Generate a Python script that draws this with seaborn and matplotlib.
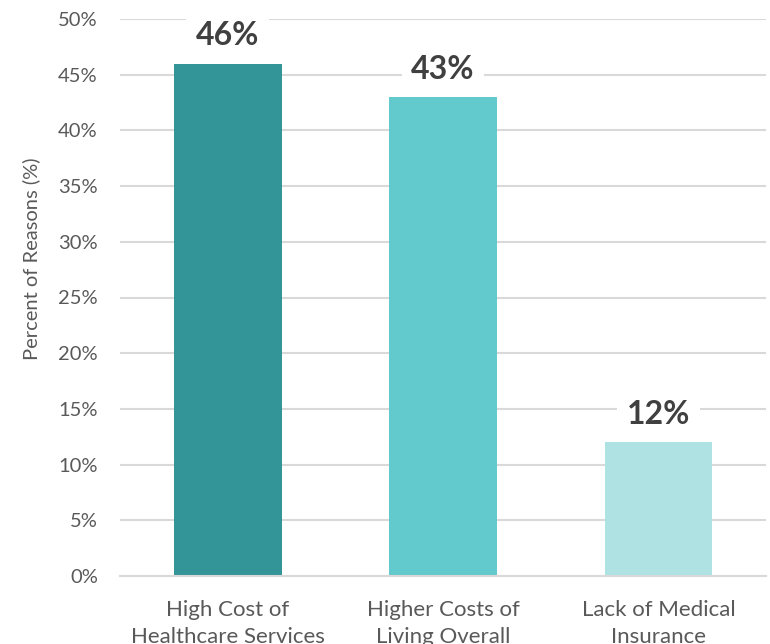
import matplotlib
matplotlib.use("Agg")
import matplotlib.pyplot as plt
import seaborn as sns
import pandas as pd
from matplotlib.ticker import FuncFormatter, MultipleLocator

categories = ["High Cost of\nHealthcare Services", "Higher Costs of\nLiving Overall", "Lack of Medical\nInsurance"]
values = [46, 43, 12]
colors = ["#339598", "#62C9CC", "#AEE2E3"]

sns.set_theme(style="white")
plt.rcParams["font.family"] = ["Lato", "DejaVu Sans"]

df = pd.DataFrame({"cat": categories, "val": values})

fig = plt.figure(figsize=(7.7, 6.44), dpi=100)
ax = fig.add_axes([120/770, 1-576/644, 646/770, (576-19)/644])

sns.barplot(data=df, x="cat", y="val", hue="cat", palette=colors, legend=False,
            width=0.5, ax=ax, saturation=1, linewidth=0)

ax.set_ylim(0, 50)
ax.set_xlim(-0.5, 2.5)
ax.yaxis.set_major_locator(MultipleLocator(5))
ax.yaxis.set_major_formatter(FuncFormatter(lambda v, p: f"{int(v)}%"))
ax.grid(axis="y", color="#d9d9d9", linewidth=1.5)
ax.set_axisbelow(True)
for s in ["top", "right", "left"]:
    ax.spines[s].set_visible(False)
ax.spines["bottom"].set_color("#d9d9d9")
ax.spines["bottom"].set_linewidth(1.5)
ax.tick_params(axis="y", length=0, labelsize=14.5, labelcolor="#595959", pad=16)
ax.tick_params(axis="x", length=0, labelsize=16, labelcolor="#595959", pad=17)
for lbl in ax.get_xticklabels():
    lbl.set_linespacing(1.45)
ax.set_xlabel("")
ax.set_ylabel("Percent of Reasons (%)", fontsize=14.5, color="#595959")
ax.yaxis.set_label_coords(-0.123, 0.57)

for i, v in enumerate(values):
    ax.annotate(f"{v}%", xy=(i, v), xytext=(0, 20), textcoords="offset points",
                ha="center", va="center", fontsize=23, fontweight="bold", color="#404040",
                bbox=dict(boxstyle="square,pad=0.3", fc="white", ec="none"))

fig.savefig("out.png", dpi=100)
